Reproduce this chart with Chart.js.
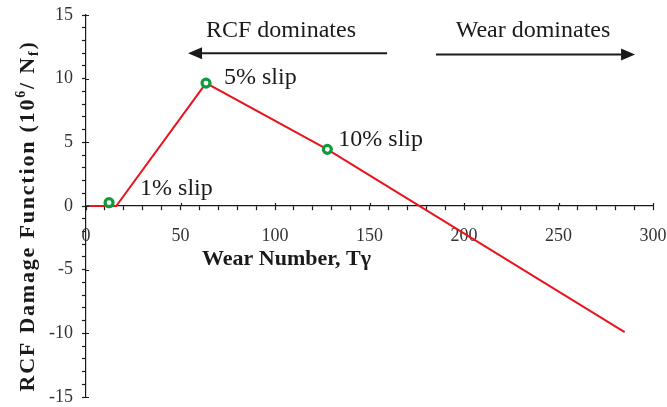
<!DOCTYPE html>
<html>
<head>
<meta charset="utf-8">
<script src="https://cdn.jsdelivr.net/npm/chart.js@4/dist/chart.umd.min.js"></script>
<style>
  html, body { margin: 0; padding: 0; background: #fff; }
  #wrap { width: 667px; height: 407px; }
</style>
</head>
<body>
<div id="wrap"><canvas id="c" width="667" height="407"></canvas></div>
<script>
// Damage curve vertices (wear number Tγ, RCF damage 10^6/Nf)
const curveX = [0, 16, 63.5, 127.7, 285];
const curveY = [0, 0, 9.65, 4.45, -9.9];

// Slip-ratio operating points
const slipLabels = ['1% slip', '5% slip', '10% slip'];
const slipX = [12.2, 63.5, 127.7];
const slipY = [0.26, 9.65, 4.45];

// Axis ranges and labelled tick steps
const xRange = [0, 300];
const yRange = [-15, 15];
const xLabelStep = 50;
const yLabelStep = 5;

// Regime arrows: [from x, to x, at y]
const rcfArrow = [159.3, 54, 12.0];
const wearArrow = [185.2, 290.5, 11.9];
const rcfText = 'RCF dominates';
const wearText = 'Wear dominates';

const xTitle = 'Wear Number, Tγ';

const SERIF = '"Liberation Serif", "Times New Roman", serif';
const INK = '#1a1a1a';

function drawArrow(ctx, x1, x2, y) {
  const dir = Math.sign(x2 - x1);
  const head = 14;
  ctx.strokeStyle = INK;
  ctx.fillStyle = INK;
  ctx.lineWidth = 2;
  ctx.beginPath();
  ctx.moveTo(x1, y);
  ctx.lineTo(x2 - dir * head, y);
  ctx.stroke();
  ctx.beginPath();
  ctx.moveTo(x2, y);
  ctx.lineTo(x2 - dir * head, y - 6);
  ctx.lineTo(x2 - dir * head, y + 6);
  ctx.closePath();
  ctx.fill();
}

// keep the plot frame fixed: no extra room reserved for end labels
function noEdgePadding(scale) {
  scale.paddingLeft = 0;
  scale.paddingRight = 0;
  scale.paddingTop = 0;
  scale.paddingBottom = 0;
}

const decorations = {
  id: 'decorations',
  afterDraw(chart) {
    const ctx = chart.ctx;
    const xs = chart.scales.x;
    const ys = chart.scales.y;
    const x0 = xs.getPixelForValue(0);
    const y0 = ys.getPixelForValue(0);
    ctx.save();

    // inner half of the labelled tick marks
    ctx.strokeStyle = INK;
    ctx.lineWidth = 1.2;
    ctx.beginPath();
    for (let v = xRange[0] + xLabelStep; v <= xRange[1]; v += xLabelStep) {
      const px = Math.round(xs.getPixelForValue(v)) + 0.5;
      ctx.moveTo(px, y0 - 3);
      ctx.lineTo(px, y0);
    }
    for (let v = yRange[0]; v <= yRange[1]; v += yLabelStep) {
      const py = Math.round(ys.getPixelForValue(v)) + 0.5;
      ctx.moveTo(x0, py);
      ctx.lineTo(x0 + 3, py);
    }
    ctx.stroke();

    // regime arrows and captions
    const ra = rcfArrow, wa = wearArrow;
    drawArrow(ctx, xs.getPixelForValue(ra[0]), xs.getPixelForValue(ra[1]), ys.getPixelForValue(ra[2]));
    drawArrow(ctx, xs.getPixelForValue(wa[0]), xs.getPixelForValue(wa[1]), ys.getPixelForValue(wa[2]));
    ctx.fillStyle = INK;
    ctx.font = '24px ' + SERIF;
    ctx.textAlign = 'center';
    ctx.textBaseline = 'alphabetic';
    ctx.fillText(rcfText, 281, ys.getPixelForValue(ra[2]) - 16);
    ctx.fillText(wearText, 533, ys.getPixelForValue(wa[2]) - 17.5);

    // slip point captions
    const offsets = [[31, -8], [18, 1], [11, -3]];
    ctx.textAlign = 'left';
    slipLabels.forEach((t, i) => {
      const px = xs.getPixelForValue(slipX[i]);
      const py = ys.getPixelForValue(slipY[i]);
      ctx.fillText(t, px + offsets[i][0], py + offsets[i][1]);
    });

    // x-axis title
    ctx.font = 'bold 22px ' + SERIF;
    ctx.fillText(xTitle, xs.getPixelForValue(61.4), y0 + 59);

    // y-axis title with superscript and subscript
    const runs = [
      { t: 'RCF Damage Function (10', size: 22, dy: 0 },
      { t: '6', size: 14, dy: -9 },
      { t: '/ N', size: 22, dy: 0 },
      { t: 'f', size: 14, dy: 4 },
      { t: ')', size: 22, dy: 0 }
    ];
    ctx.letterSpacing = '1.8px';
    let total = 0;
    runs.forEach(r => { ctx.font = 'bold ' + r.size + 'px ' + SERIF; r.w = ctx.measureText(r.t).width; total += r.w; });
    ctx.translate(34, 216);
    ctx.rotate(-Math.PI / 2);
    let cx = -total / 2;
    runs.forEach(r => {
      ctx.font = 'bold ' + r.size + 'px ' + SERIF;
      ctx.fillText(r.t, cx, r.dy);
      cx += r.w;
    });
    ctx.restore();
  }
};

const tickFont = { family: SERIF, size: 18 };

new Chart(document.getElementById('c'), {
  type: 'scatter',
  data: {
    datasets: [
      {
        label: 'slip points',
        data: slipX.map((x, i) => ({ x: x, y: slipY[i] })),
        showLine: false,
        pointRadius: 4,
        pointBorderWidth: 3.2,
        pointBorderColor: '#0f9a3c',
        pointBackgroundColor: '#ffffff',
        order: 0
      },
      {
        label: 'damage',
        data: curveX.map((x, i) => ({ x: x, y: curveY[i] })),
        showLine: true,
        borderColor: '#e8141e',
        borderWidth: 2,
        pointRadius: 0,
        tension: 0,
        order: 1
      }
    ]
  },
  options: {
    responsive: false,
    animation: false,
    devicePixelRatio: 1,
    layout: { autoPadding: false, padding: { left: 46, right: 14, top: 15, bottom: 10 } },
    plugins: { legend: { display: false }, tooltip: { enabled: false } },
    scales: {
      x: {
        type: 'linear',
        position: { y: 0 },
        min: xRange[0], max: xRange[1],
        afterFit: noEdgePadding,
        border: { display: true, color: INK, width: 1.2 },
        grid: { drawOnChartArea: false, drawTicks: true, tickLength: 4, tickColor: INK, tickWidth: 1.2 },
        ticks: {
          stepSize: 10, autoSkip: false, maxRotation: 0, padding: 15,
          color: '#333', font: tickFont,
          callback: v => (v % xLabelStep === 0 ? String(v) : '')
        }
      },
      y: {
        type: 'linear',
        position: 'left',
        min: yRange[0], max: yRange[1],
        afterFit: scale => { scale.width = 40; noEdgePadding(scale); },
        border: { display: true, color: INK, width: 1.2 },
        grid: { drawOnChartArea: false, drawTicks: true, tickLength: 4, tickColor: INK, tickWidth: 1.2 },
        ticks: {
          stepSize: 1, autoSkip: false, padding: 9,
          color: '#333', font: tickFont,
          callback: v => (v % yLabelStep === 0 ? String(v) : '')
        }
      }
    }
  },
  plugins: [decorations]
});
</script>
</body>
</html>
